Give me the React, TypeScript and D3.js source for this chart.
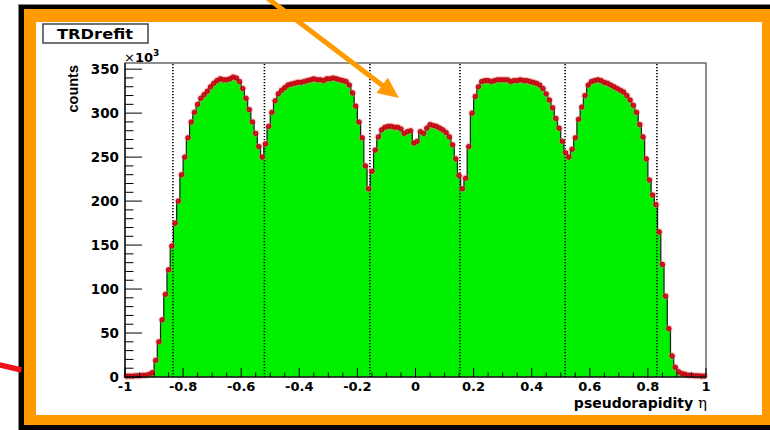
import React from 'react';
import * as d3 from 'd3';

// Histogram of pseudorapidity eta, 180 bins from -1 to 1, counts in thousands (x10^3)
const etaMin = -1;
const etaMax = 1;
const countsK = [
  1, 1, 1, 1.5, 1.5, 2, 2, 3, 5, 19,
  40, 65, 94, 122, 149, 175, 200, 230, 250, 272,
  290, 301, 310, 317, 321, 325, 330, 334, 337, 339,
  338, 338, 339, 341, 340, 336, 328, 317, 304, 290,
  277, 262, 250, 265, 285, 301, 314, 322, 326, 329,
  332, 333, 334, 335, 335, 336, 337, 338, 339, 338,
  338, 337, 339, 339, 340, 339, 338, 337, 336, 332,
  323, 308, 290, 272, 240, 214, 234, 258, 273, 281,
  284, 285, 285, 284, 284, 282, 277, 279, 280, 266,
  268, 279, 277, 283, 287, 286, 285, 283, 281, 278,
  273, 264, 248, 229, 214, 226, 262, 300, 319, 330,
  336, 337, 337, 336, 337, 338, 338, 338, 338, 336,
  337, 337, 338, 337, 337, 336, 335, 334, 332, 328,
  322, 315, 306, 294, 283, 268, 255, 250, 259, 272,
  293, 307, 320, 332, 336, 337, 338, 337, 335, 334,
  332, 330, 328, 326, 324, 320, 315, 309, 301, 287,
  273, 248, 224, 207, 196, 165, 128, 92, 55, 24,
  11, 6, 4, 3, 2, 2, 1.5, 1.5, 1, 1,
];
const xTickValues = [-1, -0.8, -0.6, -0.4, -0.2, 0, 0.2, 0.4, 0.6, 0.8, 1];
const xTickLabels = ['-1', '-0.8', '-0.6', '-0.4', '-0.2', '0', '0.2', '0.4', '0.6', '0.8', '1'];
const yTickValues = [0, 50, 100, 150, 200, 250, 300, 350];
const yTickLabels = ['0', '50', '100', '150', '200', '250', '300', '350'];
const boundaryEta = [-0.835, -0.52, -0.157, 0.153, 0.515, 0.831];
const histTitle = 'TRDrefit';
const xTitle = 'pseudorapidity ';
const yTitle = 'counts';

const ORANGE = '#ff9a00';
const GREEN = '#00f000';
const FONT = '"DejaVu Sans", "Liberation Sans", sans-serif';

export default function App() {
  const W = 770;
  const H = 430;
  const x = d3.scaleLinear().domain([etaMin, etaMax]).range([125, 706]);
  const y = d3.scaleLinear().domain([0, 357]).range([377, 63]);
  const nb = countsK.length;
  const bw = (etaMax - etaMin) / nb;
  const pts: [number, number][] = countsK.map((v, i) => [etaMin + i * bw, v]);
  pts.push([etaMax, countsK[nb - 1]]);

  const area = d3
    .area<[number, number]>()
    .x((d) => x(d[0]))
    .y0(y(0))
    .y1((d) => y(d[1]))
    .curve(d3.curveStepAfter);
  const line = d3
    .line<[number, number]>()
    .x((d) => x(d[0]))
    .y((d) => y(d[1]))
    .curve(d3.curveStepAfter);

  const minorX = d3.range(etaMin, etaMax + 1e-9, 0.05);
  const minorY = d3.range(0, 357, 10);

  // arrow geometry
  const tip = [399, 98];
  const ux = 0.8, uy = 0.6;
  const headL = 21, headW = 9.5;
  const bx = tip[0] - headL * ux, by = tip[1] - headL * uy;

  return (
    <svg
      width={W}
      height={H}
      viewBox={`0 0 ${W} ${H}`}
      style={{ position: 'absolute', left: 0, top: 0, display: 'block', background: '#fff' }}
    >
      {/* frame */}
      <rect x={18} y={4} width={W} height={H} fill="#000" />
      <line x1={18.5} y1={4} x2={18.5} y2={H} stroke="#888" strokeWidth={1} />
      <line x1={18} y1={4.5} x2={W} y2={4.5} stroke="#888" strokeWidth={1} />
      <rect x={24} y={9} width={W - 24} height={425 - 9} fill={ORANGE} />
      <rect x={36} y={22} width={762 - 36} height={415 - 22} fill="#fff" />

      {/* histogram fill */}
      <path d={area(pts) || ''} fill={GREEN} stroke="none" />

      {/* dotted boundaries */}
      {boundaryEta.map((b, i) => (
        <line
          key={'b' + i}
          x1={x(b)}
          x2={x(b)}
          y1={64}
          y2={377}
          stroke="#000"
          strokeWidth={1.6}
          strokeDasharray="1.3 1.7"
        />
      ))}

      {/* outline */}
      <path d={line(pts) || ''} fill="none" stroke="#1a1a1a" strokeWidth={1.2} />

      {/* markers */}
      {countsK.map((v, i) => (
        <circle
          key={'h' + i}
          cx={x(etaMin + (i + 0.5) * bw)}
          cy={y(v)}
          r={3.8}
          fill="#ff8080"
          opacity={0.35}
        />
      ))}
      {countsK.map((v, i) => (
        <circle
          key={'m' + i}
          cx={x(etaMin + (i + 0.5) * bw)}
          cy={y(v)}
          r={2.3}
          fill="#dc101a"
          stroke="#8a0008"
          strokeWidth={0.6}
        />
      ))}

      {/* plot frame */}
      <rect x={125} y={63} width={581} height={314} fill="none" stroke="#444" strokeWidth={1.2} />
      <line x1={125} y1={63} x2={125} y2={377.5} stroke="#000" strokeWidth={1.2} />
      <line x1={125} y1={377} x2={706} y2={377} stroke="#000" strokeWidth={1.2} />

      {/* y ticks */}
      {minorY.map((v, i) => (
        <line
          key={'ym' + i}
          x1={125}
          x2={125 + (v % 50 === 0 ? 17 : 8.5)}
          y1={y(v)}
          y2={y(v)}
          stroke="#000"
          strokeWidth={1}
        />
      ))}
      {yTickValues.map((v, i) => (
        <text
          key={'yl' + i}
          x={119}
          y={y(v) + 5}
          textAnchor="end"
          fontFamily={FONT}
          fontWeight="bold"
          fontSize={13.5}
          fill="#000"
        >
          {yTickLabels[i]}
        </text>
      ))}

      {/* x ticks */}
      {minorX.map((v, i) => {
        const major = Math.abs(Math.round(v * 5) - v * 5) < 1e-6;
        return (
          <line
            key={'xm' + i}
            x1={x(v)}
            x2={x(v)}
            y1={377}
            y2={377 - (major ? 9 : 4.5)}
            stroke="#000"
            strokeWidth={1}
          />
        );
      })}
      {xTickValues.map((v, i) => (
        <text
          key={'xl' + i}
          x={x(v)}
          y={391}
          textAnchor="middle"
          fontFamily={FONT}
          fontWeight="bold"
          fontSize={13}
          fill="#000"
        >
          {xTickLabels[i]}
        </text>
      ))}

      {/* x axis title */}
      <text x={707} y={408} textAnchor="end" fontFamily={FONT} fontWeight="bold" fontSize={14} fill="#000">
        {xTitle}
        <tspan fontFamily='"DejaVu Serif", "Liberation Serif", serif' fontWeight="normal" fontSize={15}>
          η
        </tspan>
      </text>

      {/* y axis title */}
      <text
        transform="translate(78,65) rotate(-90)"
        textAnchor="end"
        fontFamily='"Liberation Sans", Arial, sans-serif'
        fontWeight="bold"
        fontSize={14.5}
        fill="#000"
      >
        {yTitle}
      </text>

      {/* x10^3 */}
      <text x={124} y={62} fontFamily={FONT} fontSize={13} fill="#000">
        <tspan fontWeight="normal">×</tspan>
        <tspan fontWeight="bold">10</tspan>
        <tspan fontWeight="bold" fontSize={9} dy={-6}>
          3
        </tspan>
      </text>

      {/* title box */}
      <rect x={43} y={24} width={105} height={19} fill="#fff" stroke="#444" strokeWidth={1.5} />
      <text
        x={57}
        y={39}
        fontFamily={FONT}
        fontWeight="bold"
        fontSize={14.5}
        textLength={76}
        lengthAdjust="spacingAndGlyphs"
        fill="#000"
      >
        {histTitle}
      </text>

      {/* orange annotation arrow */}
      <line x1={266} y1={-3} x2={bx + 2 * ux} y2={by + 2 * uy} stroke={ORANGE} strokeWidth={5} />
      <polygon
        points={`${tip[0]},${tip[1]} ${bx - headW * uy},${by + headW * ux} ${bx + headW * uy},${by - headW * ux}`}
        fill={ORANGE}
      />

      {/* red annotation line at left */}
      <line x1={-2} y1={364.5} x2={21.5} y2={370} stroke="#f0101a" strokeWidth={5.5} />
    </svg>
  );
}
